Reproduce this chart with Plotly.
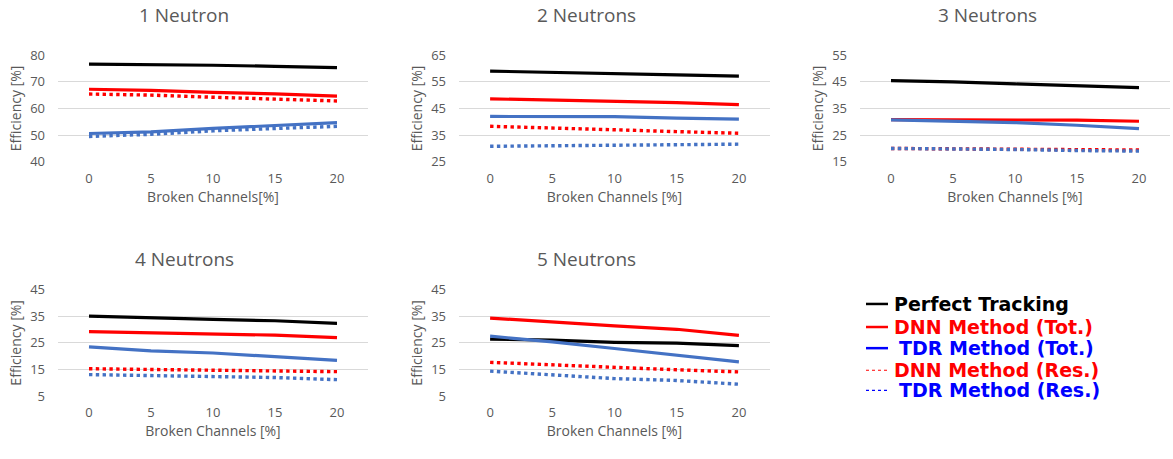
import plotly.graph_objects as go

W, H = 1173, 459

broken = [0, 5, 10, 15, 20]

panel_titles = ["1 Neutron", "2 Neutrons", "3 Neutrons", "4 Neutrons", "5 Neutrons"]
y_ranges = [(40, 80), (25, 65), (15, 55), (5, 45), (5, 45)]
x_titles = ["Broken Channels[%]", "Broken Channels [%]", "Broken Channels [%]",
            "Broken Channels [%]", "Broken Channels [%]"]

# Efficiency [%] per neutron multiplicity
perfect = [
    [76.6, 76.5, 76.2, 75.8, 75.3],
    [59.0, 58.6, 58.1, 57.6, 57.1],
    [45.4, 45.0, 44.2, 43.6, 42.8],
    [35.0, 34.3, 33.8, 33.3, 32.3],
    [26.4, 26.0, 25.2, 24.9, 24.0],
]
dnn_tot = [
    [67.2, 66.8, 66.0, 65.5, 64.6],
    [48.6, 48.2, 47.7, 47.2, 46.4],
    [30.8, 30.8, 30.7, 30.6, 30.2],
    [29.2, 28.8, 28.4, 27.9, 27.0],
    [34.3, 32.7, 31.4, 30.1, 27.8],
]
tdr_tot = [
    [50.6, 51.2, 52.5, 53.5, 54.7],
    [42.0, 42.0, 41.9, 41.4, 41.0],
    [30.7, 30.3, 29.7, 28.7, 27.4],
    [23.5, 22.0, 21.2, 19.9, 18.4],
    [27.5, 25.4, 22.9, 20.4, 17.9],
]
dnn_res = [
    [65.4, 65.0, 64.2, 63.6, 62.8],
    [38.3, 37.8, 37.0, 36.3, 35.7],
    [20.0, 19.9, 19.7, 19.5, 19.4],
    [15.3, 15.0, 14.9, 14.6, 14.2],
    [17.7, 16.7, 15.7, 14.9, 14.1],
]
tdr_res = [
    [49.5, 50.3, 51.6, 52.4, 53.3],
    [30.8, 31.0, 31.5, 31.6, 31.6],
    [20.0, 19.9, 19.6, 19.2, 19.0],
    [13.1, 12.8, 12.6, 12.0, 11.2],
    [14.4, 13.0, 11.6, 10.9, 9.5],
]

series_names = ["Perfect Tracking", "DNN Method (Tot.)", "TDR Method (Tot.)",
                "DNN Method (Res.)", "TDR Method (Res.)"]
series_data = [perfect, dnn_tot, tdr_tot, dnn_res, tdr_res]
series_colors = ["#000000", "#FF0000", "#4472C4", "#FF0000", "#4472C4"]
series_dash = ["solid", "solid", "solid", "dot", "dot"]

legend_colors = ["#000000", "#FF0000", "#0000FF", "#FF0000", "#0000FF"]

GRAY = "#595959"
GRID = "#D9D9D9"
FONT = "Open Sans"

# plot areas in pixels: (x0, x1, y0_top, y1_bottom)
cols = [(58, 368), (459, 770), (860, 1170)]
rows = [(48, 159), (292, 403)]
panels = [cols[0] + rows[0], cols[1] + rows[0], cols[2] + rows[0],
          cols[0] + rows[1], cols[1] + rows[1]]
title_pos = [(184, 6), (586, 6), (987, 6), (184, 260), (586, 260)]


def px(x):
    return x / W


def py(y):
    return 1 - y / H


fig = go.Figure()
layout = dict(
    width=W, height=H,
    margin=dict(l=0, r=0, t=0, b=0),
    paper_bgcolor="white", plot_bgcolor="white",
    showlegend=False,
    font=dict(family=FONT, color=GRAY),
    annotations=[], shapes=[],
)

for i in range(5):
    n = "" if i == 0 else str(i + 1)
    x0, x1, y0, y1 = panels[i]
    for s in range(5):
        fig.add_trace(go.Scatter(
            x=broken, y=series_data[s][i], mode="lines",
            name=series_names[s],
            line=dict(color=series_colors[s], width=3.2 if series_dash[s] == "solid" else 3.4,
                      dash=series_dash[s]),
            xaxis="x" + n, yaxis="y" + n,
        ))
    lo, hi = y_ranges[i]
    layout["xaxis" + n] = dict(
        domain=[px(x0), px(x1)], anchor="y" + n,
        range=[-2.5, 22.5], tickvals=broken, showgrid=False, zeroline=False,
        showline=False, ticks="", ticklabelstandoff=7,
        tickfont=dict(size=13, color=GRAY, family=FONT),
        title=dict(text=x_titles[i], font=dict(size=14, color=GRAY, family=FONT), standoff=6),
    )
    layout["yaxis" + n] = dict(
        domain=[py(y1), py(y0)], anchor="x" + n,
        range=[lo, hi], dtick=10, tick0=lo, showgrid=True, gridcolor=GRID, gridwidth=1,
        zeroline=False, showline=False, ticks="", ticklabelstandoff=12,
        tickfont=dict(size=13, color=GRAY, family=FONT),
        title=dict(text="Efficiency [%]", font=dict(size=14, color=GRAY, family=FONT), standoff=5),
    )
    tx, ty = title_pos[i]
    layout["annotations"].append(dict(
        text=panel_titles[i], x=px(tx), y=py(ty), xref="paper", yref="paper",
        xanchor="center", yanchor="middle", showarrow=False,
        font=dict(size=19, color=GRAY, family=FONT),
    ))

# legend block
legend_y = [307, 331, 353, 376, 397]
legend_text_x = [892, 892, 897, 892, 897]
for s in range(5):
    yy = legend_y[s]
    layout["shapes"].append(dict(
        type="line", xref="paper", yref="paper",
        x0=px(866), x1=px(888), y0=py(yy), y1=py(yy),
        line=dict(color=legend_colors[s], width=2.5 if series_dash[s] == "solid" else 1.2,
                  dash="solid" if series_dash[s] == "solid" else "dot"),
    ))
    layout["annotations"].append(dict(
        text="<b>" + series_names[s] + "</b>", x=px(legend_text_x[s]), y=py(yy),
        xref="paper", yref="paper", xanchor="left", yanchor="middle", showarrow=False,
        font=dict(size=19, color=legend_colors[s], family="DejaVu Sans"),
    ))

fig.update_layout(**layout)
fig.write_html("out.html")
